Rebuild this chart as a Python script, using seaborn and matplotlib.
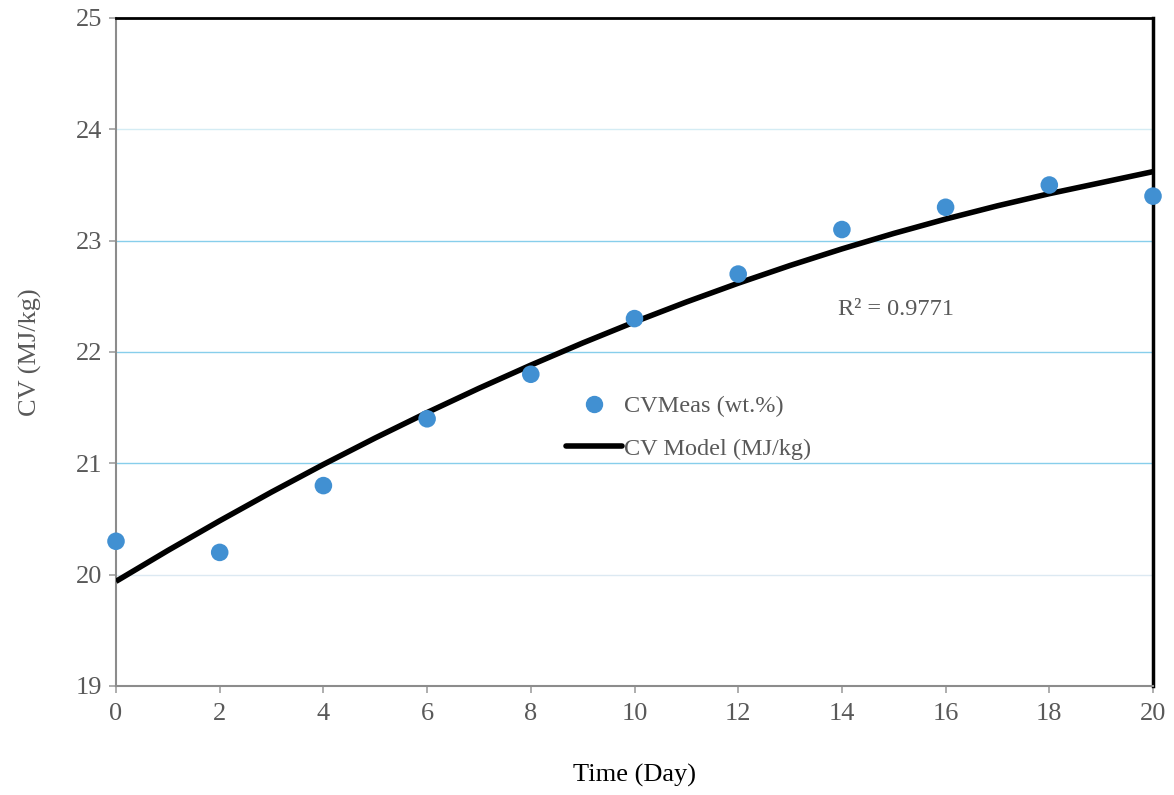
import matplotlib
matplotlib.use("Agg")
import matplotlib.pyplot as plt
import seaborn as sns
import pandas as pd
from matplotlib.lines import Line2D

# Data
days = [0, 2, 4, 6, 8, 10, 12, 14, 16, 18, 20]
cv_meas = [20.3, 20.2, 20.8, 21.4, 21.8, 22.3, 22.7, 23.1, 23.3, 23.5, 23.4]
model_days = list(range(0, 21))
cv_model = [19.94, 20.217, 20.484, 20.742, 20.99, 21.228, 21.456, 21.674, 21.882, 22.081,
            22.27, 22.449, 22.618, 22.777, 22.926, 23.065, 23.194, 23.313, 23.422, 23.521, 23.62]
x_ticks = [0, 2, 4, 6, 8, 10, 12, 14, 16, 18, 20]
y_ticks = [19, 20, 21, 22, 23, 24, 25]
r2_text = "R² = 0.9771"

sns.set_style("white")
plt.rcParams['font.family'] = ['Liberation Serif', 'DejaVu Serif']

fig = plt.figure(figsize=(11.74, 7.95), dpi=100)
ax = fig.add_axes([116/1174, 1 - 686/795, (1153-116)/1174, (686-18)/795])

gray = "#595959"
blue = "#4190D2"

# gridlines
grid_colors = {20: "#DCE9F2", 21: "#87CEEB", 22: "#87CEEB", 23: "#87CEEB", 24: "#D4ECF4"}
for yv, c in grid_colors.items():
    ax.axhline(yv, color=c, lw=1.0, zorder=0)

df_m = pd.DataFrame({"Day": model_days, "CV": cv_model})
df_p = pd.DataFrame({"Day": days, "CV": cv_meas})
sns.lineplot(data=df_m, x="Day", y="CV", ax=ax, color="black", lw=4.0, zorder=3,
             solid_capstyle="butt", solid_joinstyle="round")
sns.scatterplot(data=df_p, x="Day", y="CV", ax=ax, color=blue, s=160, edgecolor="none",
                zorder=4, clip_on=False)

ax.set_xlim(0, 20)
ax.set_ylim(19, 25)
ax.set_xticks(x_ticks)
ax.set_yticks(y_ticks)
ax.tick_params(axis="both", colors="#A0A0A0", labelsize=19, length=5, width=1.2,
               direction="out", bottom=True, left=True, labelcolor=gray)
ax.tick_params(axis="x", pad=7)
ax.tick_params(axis="y", pad=5)

for s in ["left", "bottom"]:
    ax.spines[s].set_color("#8C8C8C")
    ax.spines[s].set_linewidth(1.5)
ax.spines["top"].set_color("black")
ax.spines["top"].set_linewidth(2)
ax.spines["right"].set_color("black")
ax.spines["right"].set_linewidth(2.5)

ax.set_xlabel("Time (Day)", fontsize=19, color="black", labelpad=28)
ax.set_ylabel("CV (MJ/kg)", fontsize=19, color=gray, labelpad=24)

ax.text(13.93, 22.38, r2_text, fontsize=17.5, color=gray, va="center", ha="left")

handles = [
    Line2D([], [], marker="o", linestyle="none", color=blue, markersize=11.5),
    Line2D([], [], color="black", lw=4),
]
leg = ax.legend(handles, ["CVMeas (wt.%)", "CV Model (MJ/kg)"],
                loc="upper left", bbox_to_anchor=(566/1174, 1 - 395/795),
                bbox_transform=fig.transFigure, frameon=False, fontsize=17.5,
                handlelength=2.3, handletextpad=0.1, labelspacing=0.86, borderpad=0,
                borderaxespad=0)
for t in leg.get_texts():
    t.set_color(gray)

fig.savefig("out.png", dpi=100)
